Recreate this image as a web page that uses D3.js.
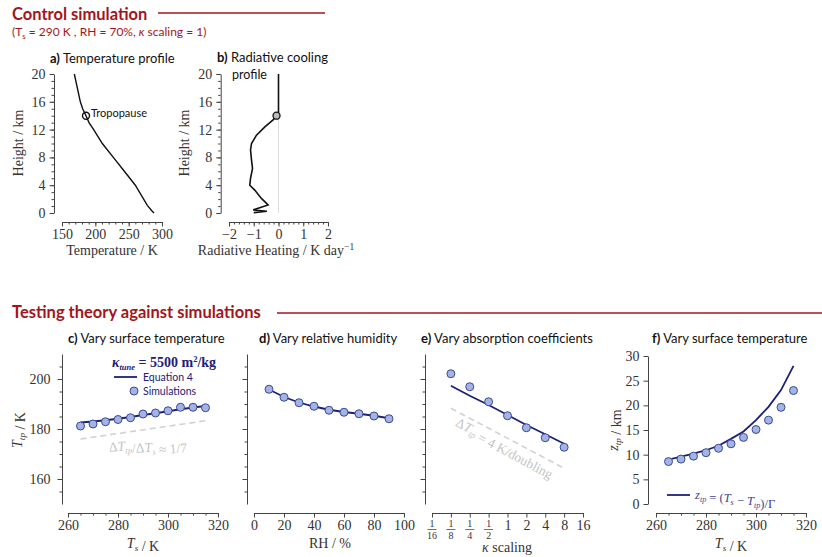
<!DOCTYPE html>
<meta charset="utf-8">
<style>
  body { margin: 0; background: #fff; }
  svg { display: block; }
  .serif { font-family: "Liberation Serif", "DejaVu Serif", serif; }
  .sans { font-family: Lato, "Open Sans", sans-serif; }
  .axis path, .axis line { stroke: #444; stroke-width: 1; }
  .axis text { font-family: "Liberation Serif", serif; font-size: 14px; fill: #333; }
</style>
<body>
<script src="https://cdnjs.cloudflare.com/ajax/libs/d3/7.8.5/d3.min.js"></script>
<script>
  // ---- data ----
  // a) control temperature profile
  var profHeight = [0, 0.3, 1.1, 4, 6, 8, 10, 12, 13, 14, 15, 16, 20];
  var profTemp = [288, 285, 278, 260, 243.5, 227, 210.5, 197.5, 190.5, 186, 181, 177.5, 168.5];
  // b) radiative cooling profile
  var coolHeight = [20, 14.5, 14, 13.4, 12.4, 11.2, 10, 9.1, 7.6, 6.4, 5, 4, 3.3, 2.1, 1.15, 0.45, 0.25, 0.05];
  var coolRate = [0, 0, -0.08, -0.22, -0.55, -0.89, -1.09, -1.13, -1.09, -1.05, -1.13, -1.16, -0.96, -0.69, -0.42, -1.02, -0.47, -1.0];
  var tropHeight = 14;

  // c) vary surface temperature
  var surfTemp = [265, 270, 275, 280, 285, 290, 295, 300, 305, 310, 315];
  var simTtpTs = [181.2, 182.0, 182.9, 183.8, 184.5, 186.0, 186.4, 187.3, 188.7, 188.7, 188.5];
  var eqTtpTs = [182.6, 183.0, 183.5, 184.1, 184.8, 185.6, 186.3, 187.1, 187.9, 188.6, 189.2];
  var refTs = [265, 315];
  var refTtpTs = [176, 183.3];

  // d) vary relative humidity
  var relHum = [10, 20, 30, 40, 50, 60, 70, 80, 90];
  var simTtpRh = [195.9, 192.7, 190.5, 189.1, 187.5, 186.7, 186.1, 185.2, 184.1];
  var eqTtpRh = [195.8, 192.8, 190.6, 189.0, 187.7, 186.8, 186.1, 185.3, 184.3];

  // e) vary absorption coefficients
  var kappaScale = [1/8, 1/4, 1/2, 1, 2, 4, 8];
  var simTtpK = [202.1, 196.9, 190.9, 185.3, 180.5, 176.5, 172.7];
  var eqTtpK = [197.3, 193.3, 189.6, 185.6, 181.6, 177.9, 174.1];
  var refK = [1/8, 8];
  var refTtpK = [188.3, 164.3];
  var kappaTicks = [1/16, 1/8, 1/4, 1/2, 1, 2, 4, 8, 16];
  var kappaFrac = ["16", "8", "4", "2"];

  // f) tropopause height
  var simZtp = [8.6, 9.1, 9.7, 10.4, 11.3, 12.2, 13.5, 15.1, 17.0, 19.6, 23.0];
  var eqZtp = [9.0, 9.6, 10.2, 10.9, 11.8, 13.2, 14.7, 17.0, 19.7, 23.1, 28.0];

  var red = "#a3141b", navy = "#1c2078", dotFill = "#a3b3e3", dotStroke = "#3a4a98", grey = "#d2d2d2";

  var svg = d3.select("body").append("svg").attr("width", 822).attr("height", 557);

  function range(a, b, s) { var r = []; for (var v = a; v <= b + 1e-9; v += s) r.push(+v.toFixed(4)); return r; }

  // bottom axis with major labelled ticks and short minor ticks
  function xAxis(x, yPos, majors, minors, fmt) {
    var g = svg.append("g").attr("class", "axis").attr("transform", "translate(0," + yPos + ")");
    if (minors) g.append("g").call(d3.axisBottom(x).tickValues(minors).tickSize(2.5).tickFormat("")).select(".domain").remove();
    g.append("g").call(d3.axisBottom(x).tickValues(majors).tickSize(4.5).tickSizeOuter(0).tickPadding(3).tickFormat(fmt || d3.format("d")));
    return g;
  }
  function yAxis(y, xPos, majors, minors, showLabels, pad) {
    var g = svg.append("g").attr("class", "axis").attr("transform", "translate(" + xPos + ",0)");
    if (minors) g.append("g").call(d3.axisLeft(y).tickValues(minors).tickSize(2.5).tickFormat("")).select(".domain").remove();
    g.append("g").call(d3.axisLeft(y).tickValues(majors).tickSize(4.5).tickSizeOuter(0).tickPadding(pad || 4)
      .tickFormat(showLabels ? d3.format("d") : ""));
    return g;
  }
  function label(x, y, txt, opt) {
    opt = opt || {};
    var t = svg.append("text").attr("x", x).attr("y", y)
      .attr("class", opt.sans ? "sans" : "serif")
      .attr("font-size", opt.size || 14).attr("fill", opt.fill || "#333")
      .attr("text-anchor", opt.anchor || "middle");
    if (opt.rotate) t.attr("transform", "rotate(" + opt.rotate + "," + x + "," + y + ")");
    if (txt) t.text(txt);
    return t;
  }
  // text with a subscript, e.g. T_tp
  function sub(t, main, s, italic) {
    t.append("tspan").attr("font-style", italic ? "italic" : null).text(main);
    t.append("tspan").attr("font-style", italic ? "italic" : null).attr("font-size", "0.65em").attr("dy", 3).text(s);
    t.append("tspan").attr("dy", -3).text("");
  }
  function panelTitle(x, y, letter, rest) {
    var t = svg.append("text").attr("x", x).attr("y", y).attr("class", "sans")
      .attr("font-size", 13).attr("fill", "#111");
    t.append("tspan").attr("font-weight", "bold").text(letter);
    t.append("tspan").text(rest);
  }
  function dots(x, y, xs, ys) {
    svg.append("g").selectAll("circle").data(xs).enter().append("circle")
      .attr("cx", function (d) { return x(d); })
      .attr("cy", function (d, i) { return y(ys[i]); })
      .attr("r", 4).attr("fill", dotFill).attr("stroke", dotStroke).attr("stroke-width", 1);
  }
  function curve(x, y, xs, ys, color, width, dash) {
    var line = d3.line().x(function (d) { return x(d); }).y(function (d, i) { return y(ys[i]); });
    svg.append("path").datum(xs).attr("d", line).attr("fill", "none")
      .attr("stroke", color).attr("stroke-width", width).attr("stroke-dasharray", dash || null);
  }

  // ---- section headings ----
  svg.append("text").attr("x", 12).attr("y", 20).attr("class", "sans").attr("font-size", 16.5)
    .attr("font-weight", "bold").attr("fill", red).text("Control simulation");
  svg.append("line").attr("x1", 158).attr("x2", 325).attr("y1", 13).attr("y2", 13).attr("stroke", red).attr("stroke-width", 1.5);
  var st = svg.append("text").attr("x", 12).attr("y", 36).attr("class", "sans").attr("font-size", 12).attr("fill", red);
  st.append("tspan").text("(T");
  st.append("tspan").attr("font-size", 8).attr("dy", 3).text("s");
  st.append("tspan").attr("dy", -3).text(" = 290 K , RH = 70%, ");
  st.append("tspan").attr("font-style", "italic").text("κ");
  st.append("tspan").text(" scaling = 1)");

  svg.append("text").attr("x", 12).attr("y", 318).attr("class", "sans").attr("font-size", 16.5)
    .attr("font-weight", "bold").attr("fill", red).text("Testing theory against simulations");
  svg.append("line").attr("x1", 277).attr("x2", 822).attr("y1", 313).attr("y2", 313).attr("stroke", red).attr("stroke-width", 1.5);

  // ---- a) temperature profile ----
  var xA = d3.scaleLinear().domain([150, 300]).range([62, 162]);
  var yA = d3.scaleLinear().domain([0, 20]).range([213, 74]);
  xAxis(xA, 222, [150, 200, 250, 300], range(150, 300, 10));
  yAxis(yA, 54, [0, 4, 8, 12, 16, 20], range(0, 20, 1), true, 4);
  curve(xA, yA, profTemp, profHeight, "#111", 1.4);
  var tropT = profTemp[profHeight.indexOf(tropHeight)];
  svg.append("circle").attr("cx", xA(tropT)).attr("cy", yA(tropHeight)).attr("r", 3.5)
    .attr("fill", "none").attr("stroke", "#111").attr("stroke-width", 1.4);
  label(91, 117, "Tropopause", { sans: true, size: 11, anchor: "start", fill: "#111" });
  panelTitle(50, 63, "a)", " Temperature profile");
  label(112, 255, "Temperature / K");
  label(23, 143, "Height / km", { rotate: -90 });

  // ---- b) radiative cooling ----
  var xB = d3.scaleLinear().domain([-2, 2]).range([229, 328]);
  var yB = yA;
  xAxis(xB, 222, [-2, -1, 0, 1, 2], range(-2, 2, 0.2), function (d) { return d < 0 ? "\u2212" + (-d) : d; });
  yAxis(yB, 220.7, [0, 4, 8, 12, 16, 20], range(0, 20, 1), true, 4);
  svg.append("line").attr("x1", xB(0)).attr("x2", xB(0)).attr("y1", yB(0)).attr("y2", yB(20))
    .attr("stroke", "#ddd").attr("stroke-width", 1);
  curve(xB, yB, coolRate, coolHeight, "#111", 1.6);
  svg.append("circle").attr("cx", xB(coolRate[2])).attr("cy", yB(tropHeight)).attr("r", 3.5)
    .attr("fill", "#bbb").attr("stroke", "#111").attr("stroke-width", 1.3);
  panelTitle(217, 62, "b)", " Radiative cooling");
  label(232, 79, "profile", { sans: true, size: 12.5, anchor: "start", fill: "#111" });
  var bl = label(276, 255, null);
  bl.append("tspan").text("Radiative Heating / K day");
  bl.append("tspan").attr("font-size", 9.5).attr("dy", -5).text("\u22121");
  label(189, 143, "Height / km", { rotate: -90 });

  // ---- shared y scale for c, d, e ----
  var yT = d3.scaleLinear().domain([150, 210]).range([504, 354]);
  var tMinor = range(155, 205, 5);

  // ---- c) vary surface temperature ----
  var xC = d3.scaleLinear().domain([260, 320]).range([68, 218]);
  xAxis(xC, 513, [260, 280, 300, 320], range(260, 320, 5));
  yAxis(yT, 62, [160, 180, 200], tMinor, true, 7);
  curve(xC, yT, refTs, refTtpTs, grey, 1.6, "6,4");
  curve(xC, yT, surfTemp, eqTtpTs, navy, 1.8);
  dots(xC, yT, surfTemp, simTtpTs);
  var rc = label(148, 449, null, { fill: "#c4c4c4", size: 13.5, rotate: -4 });
  rc.append("tspan").text("\u0394");
  sub(rc, "T", "tp", true);
  rc.append("tspan").text("/\u0394");
  sub(rc, "T", "s", true);
  rc.append("tspan").text(" \u2248 1/7");
  var kt = label(112, 367, null, { anchor: "start", fill: navy, size: 14 }).attr("font-weight", "bold");
  kt.append("tspan").attr("font-style", "italic").text("κ");
  kt.append("tspan").attr("font-style", "italic").attr("font-size", 8.5).attr("dy", 3).text("tune");
  kt.append("tspan").attr("dy", -3).text(" = 5500 m");
  kt.append("tspan").attr("font-size", 8.5).attr("dy", -5).text("2");
  kt.append("tspan").attr("dy", 5).text("/kg");
  svg.append("line").attr("x1", 114).attr("x2", 137).attr("y1", 377).attr("y2", 377).attr("stroke", navy).attr("stroke-width", 1.8);
  label(143, 381, "Equation 4", { sans: true, size: 10.5, anchor: "start", fill: navy });
  svg.append("circle").attr("cx", 134).attr("cy", 391).attr("r", 4).attr("fill", dotFill).attr("stroke", dotStroke);
  label(143, 395, "Simulations", { sans: true, size: 10.5, anchor: "start", fill: navy });
  panelTitle(68, 343, "c)", " Vary surface temperature");
  var cx = label(143, 548, null);
  sub(cx, "T", "s", true);
  cx.append("tspan").text(" / K");
  var cy = label(22, 430, null, { rotate: -90 });
  sub(cy, "T", "tp", true);
  cy.append("tspan").text(" / K");

  // ---- d) vary relative humidity ----
  var xD = d3.scaleLinear().domain([0, 100]).range([254, 404]);
  xAxis(xD, 513, [0, 20, 40, 60, 80, 100], null);
  yAxis(yT, 247, [160, 180, 200], tMinor, false);
  curve(xD, yT, relHum, eqTtpRh, navy, 1.8);
  dots(xD, yT, relHum, simTtpRh);
  panelTitle(259, 343, "d)", " Vary relative humidity");
  label(330, 548, "RH / %");

  // ---- e) vary absorption coefficients ----
  var xE = d3.scaleLog().base(2).domain([1/16, 16]).range([432, 583]);
  xAxis(xE, 513, kappaTicks, null, function (d) { return d >= 1 ? d : ""; });
  kappaTicks.filter(function (d) { return d < 1; }).forEach(function (d, i) {
    var cxp = xE(d);
    label(cxp, 527, "1", { size: 10 });
    svg.append("line").attr("x1", cxp - 4.5).attr("x2", cxp + 4.5).attr("y1", 529.5).attr("y2", 529.5).attr("stroke", "#333").attr("stroke-width", 0.7);
    label(cxp, 539, kappaFrac[i], { size: 10 });
  });
  yAxis(yT, 425, [160, 180, 200], tMinor, false);
  curve(xE, yT, refK, refTtpK, grey, 1.6, "6,4");
  curve(xE, yT, kappaScale, eqTtpK, navy, 1.8);
  dots(xE, yT, kappaScale, simTtpK);
  var re = label(503, 451, null, { fill: "#c4c4c4", size: 13.5, rotate: 28 });
  re.append("tspan").text("\u0394");
  sub(re, "T", "tp", true);
  re.append("tspan").text(" = 4 K/doubling");
  panelTitle(421, 343, "e)", " Vary absorption coefficients");
  var el = label(507, 552, null);
  el.append("tspan").attr("font-style", "italic").text("κ");
  el.append("tspan").text(" scaling");

  // ---- f) tropopause height ----
  var xF = d3.scaleLinear().domain([260, 320]).range([656, 806]);
  var yF = d3.scaleLinear().domain([0, 30]).range([504, 356]);
  xAxis(xF, 513, [260, 280, 300, 320], range(260, 320, 5));
  yAxis(yF, 648, [0, 5, 10, 15, 20, 25, 30], null, true, 4);
  curve(xF, yF, surfTemp, eqZtp, navy, 1.8);
  dots(xF, yF, surfTemp, simZtp);
  svg.append("line").attr("x1", 667).attr("x2", 690).attr("y1", 495).attr("y2", 495).attr("stroke", navy).attr("stroke-width", 1.8);
  var fl = label(695, 499, null, { anchor: "start", fill: "#3d4590", size: 12.5 });
  sub(fl, "z", "tp", true);
  fl.append("tspan").text(" = (");
  sub(fl, "T", "s", true);
  fl.append("tspan").text(" \u2212 ");
  sub(fl, "T", "tp", true);
  fl.append("tspan").text(")/\u0393");
  panelTitle(652, 343, "f)", " Vary surface temperature");
  var fx = label(731, 548, null);
  sub(fx, "T", "s", true);
  fx.append("tspan").text(" / K");
  var fy = label(618, 430, null, { rotate: -90 });
  sub(fy, "z", "tp", true);
  fy.append("tspan").text(" / km");
</script>
</body>
